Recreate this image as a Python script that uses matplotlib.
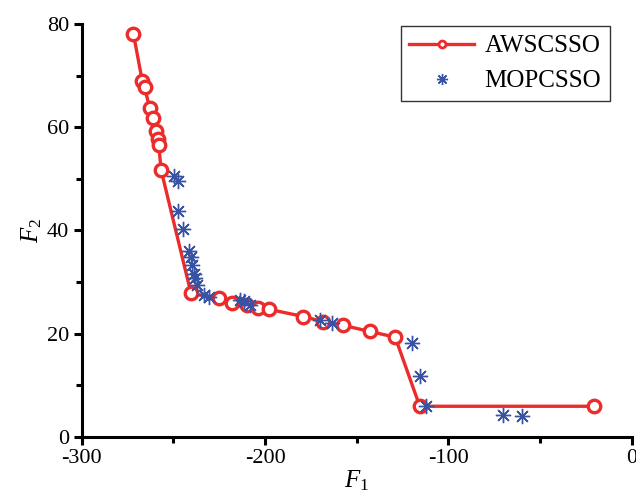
import numpy as np
import matplotlib.pyplot as plt

plt.rcParams['font.family'] = ['Liberation Serif', 'DejaVu Serif']
plt.rcParams['mathtext.fontset'] = 'custom'
plt.rcParams['mathtext.rm'] = 'Liberation Serif'
plt.rcParams['mathtext.it'] = 'Liberation Serif:italic'
plt.rcParams['axes.unicode_minus'] = False

# AWSCSSO front (red circles, connected)
aws_f1 = [-271.8, -267.0, -265.7, -263.0, -261.2, -259.6, -258.3, -258.0, -256.7,
          -240.4, -225.1, -217.9, -209.8, -204.0, -198.0, -179.1, -168.3, -157.4,
          -142.9, -129.0, -115.6, -20.3]
aws_f2 = [78.1, 69.0, 67.7, 63.8, 61.7, 59.3, 57.7, 56.6, 51.7,
          27.8, 26.8, 26.0, 25.5, 24.9, 24.7, 23.3, 22.3, 21.6,
          20.4, 19.3, 5.9, 5.9]

# MOPCSSO points (blue stars)
mop_f1 = [-249.8, -247.3, -247.3, -244.8, -241.7, -240.4, -239.9, -239.0, -238.1,
          -237.2, -233.2, -230.5, -213.4, -211.6, -208.0, -170.1, -163.7,
          -119.6, -115.4, -112.3, -70.4, -60.0]
mop_f2 = [50.6, 49.5, 43.7, 40.3, 36.0, 34.8, 33.2, 31.6, 30.7,
          29.4, 27.4, 27.1, 26.5, 26.4, 25.5, 22.6, 22.0,
          18.2, 11.8, 5.9, 4.25, 4.06]

red = '#ec2b2b'
blue = '#3953a4'

fig = plt.figure(figsize=(6.36, 4.92), dpi=100)
ax = fig.add_axes([0.1285, 0.1124, 0.8647, 0.8388])

ax.plot(aws_f1, aws_f2, color=red, lw=2.4, marker='o', ms=9, mew=2.4,
        mfc='white', mec=red, label='AWSCSSO', zorder=2)
ax.plot(mop_f1, mop_f2, ls='none', marker=(8, 2, 0), ms=11, mew=1.0,
        color=blue, label='MOPCSSO', zorder=3)

ax.set_xlim(-300, 0)
ax.set_ylim(0, 80)
ax.set_xticks([-300, -200, -100, 0])
ax.set_xticks([-250, -150, -50], minor=True)
ax.set_yticks([0, 20, 40, 60, 80])
ax.set_yticks([10, 30, 50, 70], minor=True)

for s in ['top', 'right']:
    ax.spines[s].set_visible(False)
for s in ['left', 'bottom']:
    ax.spines[s].set_linewidth(2.2)
ax.tick_params(which='major', direction='out', length=6, width=2.2, labelsize=16, pad=3)
ax.tick_params(which='minor', direction='out', length=4, width=2.2)

ax.set_xlabel('$F_1$', fontsize=18, labelpad=0)
ax.set_ylabel('$F_2$', fontsize=18, labelpad=2)

leg = ax.legend(loc='upper right', bbox_to_anchor=(0.96, 0.995), fontsize=18,
                frameon=True, fancybox=False, edgecolor='black', handlelength=2.6,
                borderpad=0.35, labelspacing=0.5, handletextpad=0.4, borderaxespad=0)
leg.get_frame().set_linewidth(1.0)
leg.legend_handles[0].set_markersize(5)
leg.legend_handles[0].set_markeredgewidth(2)
leg.legend_handles[1].set_markersize(8)

fig.savefig('out.png', dpi=100)
